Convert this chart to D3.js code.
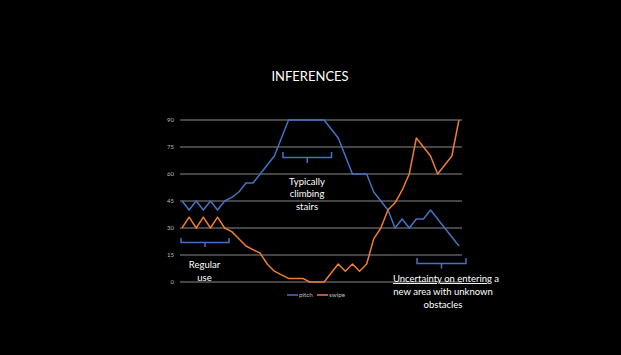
<!DOCTYPE html>
<html><head><meta charset="utf-8">
<script src="https://cdn.jsdelivr.net/npm/d3@7"></script>
<style>body{margin:0;background:#000;}svg{display:block;}</style>
</head><body>
<script>
const categories = d3.range(1, 41);
const pitch = [45,40,45,40,45,40,45,47,50,55,55,60,65,70,80,90,90,90,90,90,90,85,80,70,60,60,60,50,45,40,30,35,30,35,35,40,35,30,25,20];
const swipe = [30,36,30,36,30,36,30,28,24,20,18,16,10,6,4,2,2,2,0,0,0,5,10,6,10,6,10,24,30,40,44,51,60,80,75,70,60,65,70,90];
const yTicks = [0,15,30,45,60,75,90];
const seriesNames = ["pitch","swipe"];
const colors = ["#4472C4","#ED7D31"];

const W = 621, H = 355;
const svg = d3.select("body").append("svg").attr("width", W).attr("height", H).style("background","#000");

svg.append("text").attr("x", 310).attr("y", 81).attr("text-anchor","middle")
  .attr("fill","#fff").attr("font-family","Lato, 'Open Sans', sans-serif").attr("font-size",13)
  .text("INFERENCES");

const x = d3.scaleBand().domain(categories).range([178.5, 462.5]);
const y = d3.scaleLinear().domain([0,90]).range([282,120]);

svg.append("g").selectAll("line").data(yTicks).join("line")
  .attr("x1",180).attr("x2",462).attr("y1",d=>y(d)).attr("y2",d=>y(d))
  .attr("stroke","#8a8a8a").attr("stroke-width",1);
const yAxis = d3.axisLeft(y).tickValues(yTicks).tickSize(0).tickPadding(0);
const ga = svg.append("g").attr("transform","translate(174,0)").call(yAxis);
ga.select(".domain").remove();
ga.selectAll("text").attr("fill","#bdbdbd").attr("font-size",6).attr("font-family","Lato, sans-serif");

const line = d3.line().x((d,i)=>x(categories[i]) + x.bandwidth()/2).y(d=>y(d));
[pitch, swipe].forEach((s,k)=>{
  svg.append("path").datum(s).attr("d",line).attr("fill","none")
    .attr("stroke",colors[k]).attr("stroke-width",1.5).attr("stroke-linejoin","round");
});

// legend
const legX = [287, 317];
seriesNames.forEach((n,k)=>{
  svg.append("line").attr("x1",legX[k]).attr("x2",legX[k]+11).attr("y1",295).attr("y2",295)
    .attr("stroke",colors[k]).attr("stroke-width",1.5);
  svg.append("text").attr("x",legX[k]+12).attr("y",297).attr("fill","#bdbdbd")
    .attr("font-size",6.3).attr("font-family","Lato, sans-serif").text(n);
});

// annotations
function bracket(x1,x2,yb,yt,yc){
  const xc=(x1+x2)/2;
  svg.append("path").attr("d",`M${x1},${yt}V${yb}H${x2}V${yt}M${xc},${yb}V${yc}`)
    .attr("fill","none").attr("stroke","#4472C4").attr("stroke-width",1.5);
}
bracket(181,229,242.5,238,247);
bracket(283,331.5,157.5,152,163);
bracket(417,466,263.5,258,268.5);

function label(lines, cx, y0, lh){
  const t = svg.append("text").attr("text-anchor","middle").attr("fill","#fff")
    .attr("font-family","Lato, 'Open Sans', sans-serif").attr("font-size",9.5);
  lines.forEach((l,i)=>{
    t.append("tspan").attr("x",cx).attr("y",y0+i*lh).text(l);
  });
  return t;
}
label(["Regular","use"], 204.5, 268, 13);
label(["Typically","climbing","stairs"], 307, 185, 12.3);
const u = svg.append("text").attr("text-anchor","middle").attr("fill","#fff")
  .attr("font-family","Lato, 'Open Sans', sans-serif").attr("font-size",9.5)
  .attr("x",446).attr("y",282);
u.append("tspan").attr("text-decoration","underline").text("Uncertainty on entering");
u.append("tspan").text(" a");
label(["new area with unknown","obstacles"], 443, 295, 12.5);
</script>
</body></html>
